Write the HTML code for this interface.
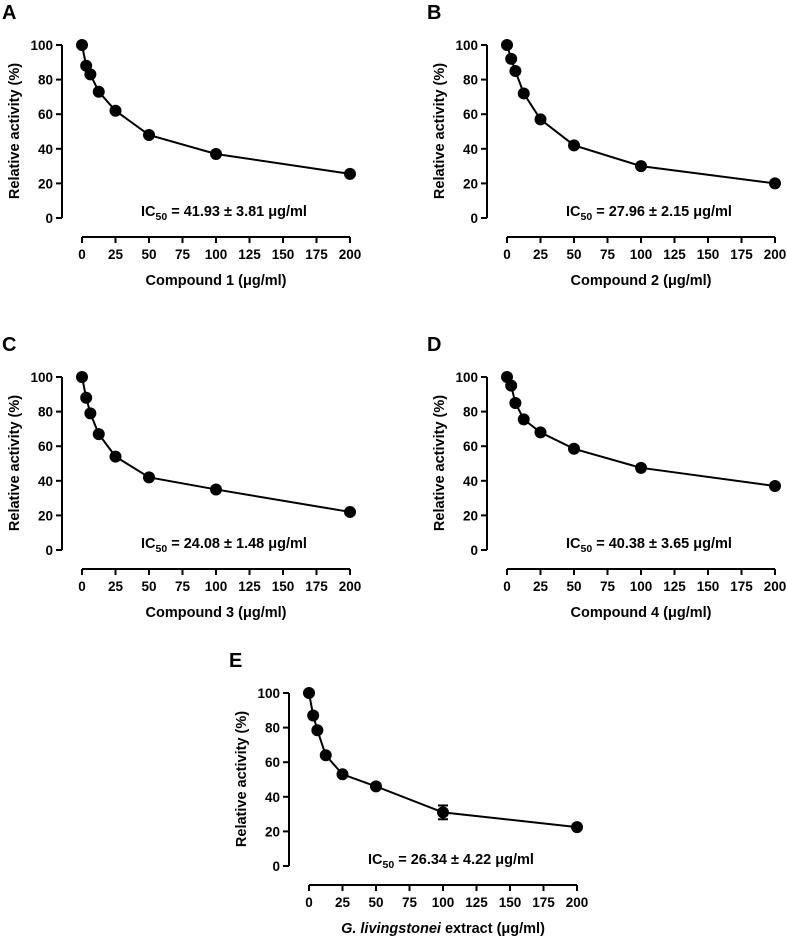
<!DOCTYPE html>
<html><head><meta charset="utf-8"><style>
body{margin:0;background:#fff}
svg{display:block;font-family:"Liberation Sans",Arial,sans-serif;font-weight:bold}
</style></head><body>
<svg id="fig" width="787" height="937" viewBox="0 0 787 937"></svg>
<script>
const xValues=[0,3.125,6.25,12.5,25,50,100,200];
const seriesA=[100,88,83,73,62,48,37,25.5];
const seriesB=[100,92,85,72,57,42,30,20];
const seriesC=[100,88,79,67,54,42,35,22];
const seriesD=[100,95,85,75.5,68,58.5,47.5,37];
const seriesE=[100,87,78.5,64,53,46,31,22.5];
const errorE=[0,0,0,0,0,0,4,0];
const xTicks=[0,25,50,75,100,125,150,175,200];
const yTicks=[0,20,40,60,80,100];
const panelLabels=["A","B","C","D","E"];
const ic50Labels=["41.93 ± 3.81","27.96 ± 2.15","24.08 ± 1.48","40.38 ± 3.65","26.34 ± 4.22"];
const xTitles=["Compound 1","Compound 2","Compound 3","Compound 4","G. livingstonei"];
const NS="http://www.w3.org/2000/svg";
const svg=document.getElementById('fig');
function el(t,a,p){const e=document.createElementNS(NS,t);for(const k in a)e.setAttribute(k,a[k]);(p||svg).appendChild(e);return e;}
const offs=[[0,0],[425,0],[0,332],[425,332],[227,648]];
const series=[seriesA,seriesB,seriesC,seriesD,seriesE];
offs.forEach((o,i)=>{
  const ox=o[0],oy=o[1];
  const g=el('g',{});
  
  
  const sx=v=>ox+82+v/200*268;
  const sy=v=>oy+218-v/100*173;
  const pl=el('text',{x:ox+2,y:oy+19,'font-size':20},g);pl.textContent=panelLabels[i];
  
  const ya=el('line',{x1:ox+62,x2:ox+62,y1:sy(100),y2:sy(0),stroke:'#000','stroke-width':2},g);
  
  yTicks.forEach(t=>{
    el('line',{x1:ox+56,x2:ox+62,y1:sy(t),y2:sy(t),stroke:'#000','stroke-width':2},g);
    const tx=el('text',{x:ox+53,y:sy(t)+5,'font-size':13.5,'text-anchor':'end'},g);tx.textContent=t;
    
  });
  const yt=el('text',{x:0,y:0,'font-size':14.5,'text-anchor':'middle',transform:`translate(${ox+19},${oy+131}) rotate(-90)`},g);
  yt.textContent='Relative activity (%)';
  
  const xa=el('line',{x1:sx(0),x2:sx(200),y1:oy+237,y2:oy+237,stroke:'#000','stroke-width':2},g);
  
  xTicks.forEach(t=>{
    el('line',{x1:sx(t),x2:sx(t),y1:oy+237,y2:oy+243,stroke:'#000','stroke-width':2},g);
    const tx=el('text',{x:sx(t),y:oy+259,'font-size':13.5,'text-anchor':'middle'},g);tx.textContent=t;
    
  });
  const xt=el('text',{x:sx(100),y:oy+285,'font-size':14.5,'text-anchor':'middle'},g);
  if(i===4){xt.innerHTML='<tspan font-style="italic">G. livingstonei</tspan> extract (μg/ml)';}
  else xt.textContent=xTitles[i]+' (μg/ml)';
  
  const ic=el('text',{x:ox+141,y:oy+216,'font-size':14.5},g);
  ic.innerHTML='IC<tspan font-size="10.5" dy="4">50</tspan><tspan dy="-4"> = '+ic50Labels[i]+' μg/ml</tspan>';
  
  const s=series[i];
  const ln=el('polyline',{points:s.map((v,j)=>sx(xValues[j])+','+sy(v)).join(' '),fill:'none',stroke:'#000','stroke-width':2},g);
  
  s.forEach((v,j)=>{
    if(i===4&&errorE[j]>0){
      const e=errorE[j];
      el('line',{x1:sx(xValues[j]),x2:sx(xValues[j]),y1:sy(v+e),y2:sy(v-e),stroke:'#000','stroke-width':2},g);
      el('line',{x1:sx(xValues[j])-5,x2:sx(xValues[j])+5,y1:sy(v+e),y2:sy(v+e),stroke:'#000','stroke-width':2},g);
      el('line',{x1:sx(xValues[j])-5,x2:sx(xValues[j])+5,y1:sy(v-e),y2:sy(v-e),stroke:'#000','stroke-width':2},g);
    }
    const c=el('circle',{cx:sx(xValues[j]),cy:sy(v),r:6,fill:'#000'},g);
    
  });
});
</script>
</body></html>
